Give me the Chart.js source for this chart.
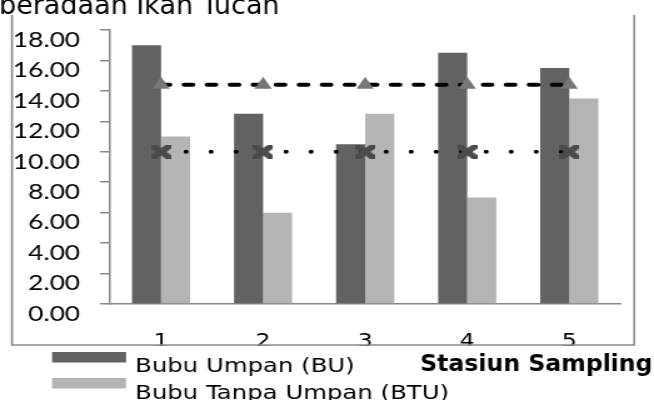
<!DOCTYPE html>
<html>
<head>
<meta charset="utf-8">
<script src="https://cdn.jsdelivr.net/npm/chart.js@4/dist/chart.umd.min.js"></script>
<style>
  html, body { margin: 0; padding: 0; background: #fff; overflow: hidden; }
  #wrap { width: 523px; height: 400px; transform: scaleX(1.2505); transform-origin: 0 0; }
  canvas { display: block; }
</style>
</head>
<body>
<div id="wrap"><canvas id="c" width="523" height="400"></canvas></div>
<script>
// Stations and catch values
const stations = ['1', '2', '3', '4', '5'];
const bubuUmpan = [17.0, 12.5, 10.5, 16.5, 15.5];
const bubuTanpaUmpan = [11.0, 6.0, 12.5, 7.0, 13.5];
// Mean lines for each trap type
const rerataBU = [14.4, 14.4, 14.4, 14.4, 14.4];
const rerataBTU = [10.0, 10.0, 10.0, 10.0, 10.0];
const seriesNames = ['Bubu Umpan (BU)', 'Bubu Tanpa Umpan (BTU)'];
const axisTitle = 'Stasiun Sampling';
const headerText = 'Keberadaan Ikan Tucan';

// "X" shaped marker used on the BTU mean line
function makeXMarker(w, h, color) {
  const c = document.createElement('canvas');
  c.width = w; c.height = h;
  const g = c.getContext('2d');
  g.strokeStyle = color;
  g.lineWidth = 5.5;
  g.beginPath();
  g.moveTo(0, 0); g.lineTo(w, h);
  g.moveTo(w, 0); g.lineTo(0, h);
  g.stroke();
  return c;
}
const xMarker = makeXMarker(16, 14, '#4b4b4b');

const decor = {
  id: 'decor',
  afterDraw(chart) {
    const ctx = chart.ctx;
    ctx.save();
    // keep tick text inside the frame
    ctx.fillStyle = '#fff';
    ctx.fillRect(10.5, 345.8, 496, 5);
    // frame around the plot
    ctx.strokeStyle = '#8a8a8a';
    ctx.lineWidth = 1.6;
    ctx.beginPath();
    ctx.moveTo(9.6, 15); ctx.lineTo(9.6, 345); ctx.lineTo(507.2, 345); ctx.lineTo(507.2, 15);
    ctx.stroke();

    // header line (partly above the visible area)
    ctx.save();
    ctx.translate(-0.8, 13.5);
    ctx.scale(0.83, 1);
    ctx.fillStyle = '#000';
    ctx.font = '26px "DejaVu Sans"';
    ctx.textBaseline = 'alphabetic';
    ctx.textAlign = 'left';
    const pre = ctx.measureText('Ke').width;
    ctx.fillText(headerText, -pre, 0);
    ctx.restore();

    // legend for the bar series
    const bars = chart.data.datasets.filter(d => d.type !== 'line');
    bars.forEach((d, i) => {
      ctx.fillStyle = d.backgroundColor;
      ctx.fillRect(41.6, 352 + i * 26, 59.2, 10.5);
      ctx.fillStyle = '#000';
      ctx.font = '19.5px "DejaVu Sans"';
      ctx.textBaseline = 'alphabetic';
      ctx.fillText(d.label, 108, 372 + i * 27);
    });

    // x axis title
    ctx.save();
    ctx.translate(336, 371);
    ctx.scale(0.82, 1);
    ctx.font = 'bold 23px "DejaVu Sans"';
    ctx.fillStyle = '#000';
    ctx.fillText(axisTitle, 0, 0);
    ctx.restore();

    ctx.restore();
  }
};

new Chart(document.getElementById('c'), {
  type: 'bar',
  data: {
    labels: stations,
    datasets: [
      {
        type: 'line', label: 'Rerata BU', data: rerataBU, order: 0,
        borderColor: '#000', borderWidth: 4, borderDash: [7, 11.4], borderCapStyle: 'round',
        pointStyle: 'triangle', pointRadius: 8, pointBackgroundColor: '#777777',
        pointBorderColor: '#777777', pointBorderWidth: 0, fill: false, tension: 0
      },
      {
        type: 'line', label: 'Rerata BTU', data: rerataBTU, order: 0,
        borderColor: '#000', borderWidth: 4, borderDash: [0, 20], borderCapStyle: 'round',
        pointStyle: xMarker, pointRadius: 8, fill: false, tension: 0
      },
      {
        label: seriesNames[0], data: bubuUmpan, order: 1,
        backgroundColor: '#626262', borderWidth: 0,
        categoryPercentage: 0.57, barPercentage: 1.0
      },
      {
        label: seriesNames[1], data: bubuTanpaUmpan, order: 1,
        backgroundColor: '#b4b4b4', borderWidth: 0,
        categoryPercentage: 0.57, barPercentage: 1.0
      }
    ]
  },
  options: {
    responsive: false,
    animation: false,
    devicePixelRatio: 1,
    layout: { padding: { left: 0, top: 30, right: 27, bottom: 0 } },
    plugins: { legend: { display: false }, tooltip: { enabled: false } },
    scales: {
      x: {
        ticks: { font: { family: 'DejaVu Sans', size: 19 }, color: '#000', padding: 27 },
        grid: { display: true, drawOnChartArea: false, drawTicks: false },
        border: { display: true, color: '#888888', width: 1.5 },
        afterFit: s => { s.height = 96; }
      },
      y: {
        min: 0, max: 18,
        ticks: {
          stepSize: 2, color: '#000', padding: 16, labelOffset: 10,
          font: { family: 'Lato', size: 21 },
          callback: v => Number(v).toFixed(2)
        },
        grid: { drawOnChartArea: false, drawTicks: true, tickLength: 8, color: '#888888', tickColor: '#888888', lineWidth: 1.5 },
        border: { display: true, color: '#888888', width: 1.5 },
        afterFit: s => { s.width = 88; }
      }
    }
  },
  plugins: [decor]
});
</script>
</body>
</html>
